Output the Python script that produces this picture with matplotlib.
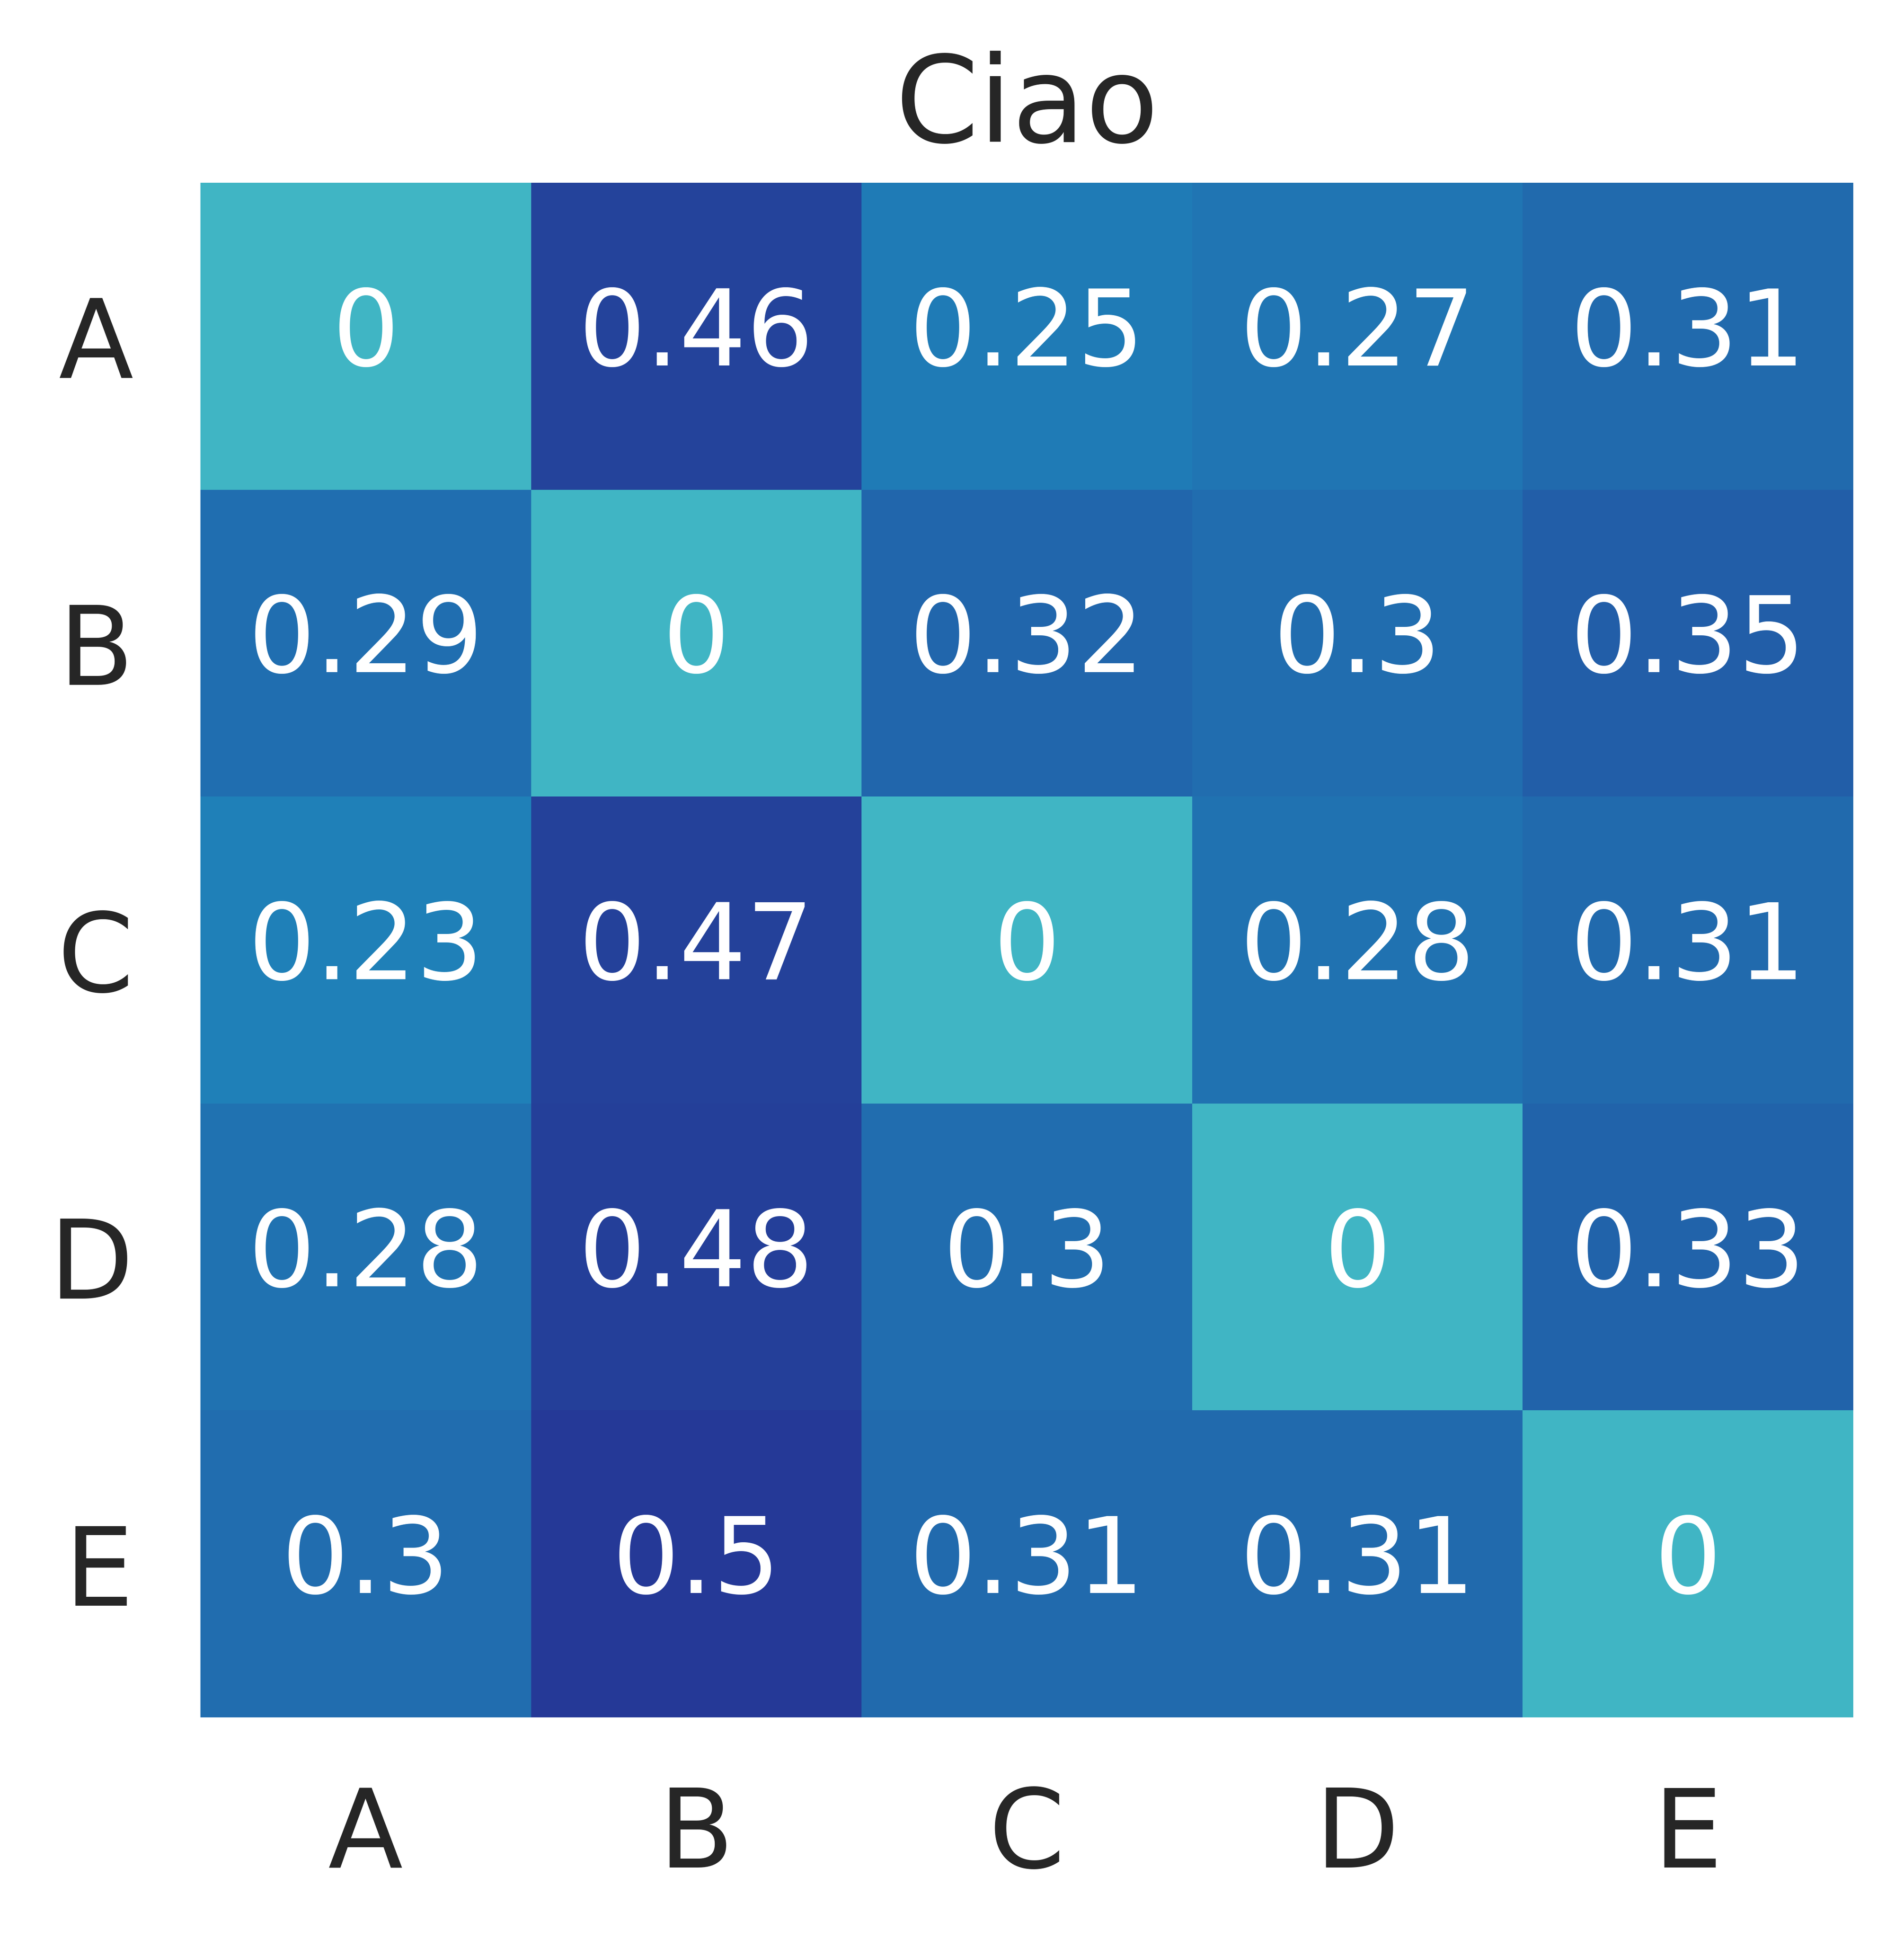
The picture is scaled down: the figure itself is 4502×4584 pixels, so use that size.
import numpy as np
import pandas as pd
import matplotlib
matplotlib.use("Agg")
import matplotlib.pyplot as plt
import seaborn as sns

labels = ["A", "B", "C", "D", "E"]
row_A = [0, 0.46, 0.25, 0.27, 0.31]
row_B = [0.29, 0, 0.32, 0.3, 0.35]
row_C = [0.23, 0.47, 0, 0.28, 0.31]
row_D = [0.28, 0.48, 0.3, 0, 0.33]
row_E = [0.3, 0.5, 0.31, 0.31, 0]
title = "Ciao"

df = pd.DataFrame([row_A, row_B, row_C, row_D, row_E], index=labels, columns=labels)

sns.set_style("white")
plt.rcParams['font.family'] = ['DejaVu Sans']

fig = plt.figure(figsize=(4502 / 300, 4584 / 300), dpi=300)
ax = fig.add_axes([474 / 4502, 1 - 4060 / 4584, (4382 - 474) / 4502, (4060 - 432) / 4584])

sns.heatmap(df, ax=ax, cmap="YlGnBu", vmin=-0.7, vmax=0.7, cbar=False,
            annot=True, fmt=".2g", annot_kws={"fontsize": 60, "color": "white"})

ax.set_title(title, fontsize=68, color="#262626", pad=23)
ax.tick_params(axis="both", length=0, pad=38, labelsize=62, colors="#262626")
ax.set_yticklabels(labels, rotation=0, va="center_baseline")
ax.set_xticklabels(labels, rotation=0)
ax.set_xlabel("")
ax.set_ylabel("")

fig.savefig("out.png", dpi=300)
